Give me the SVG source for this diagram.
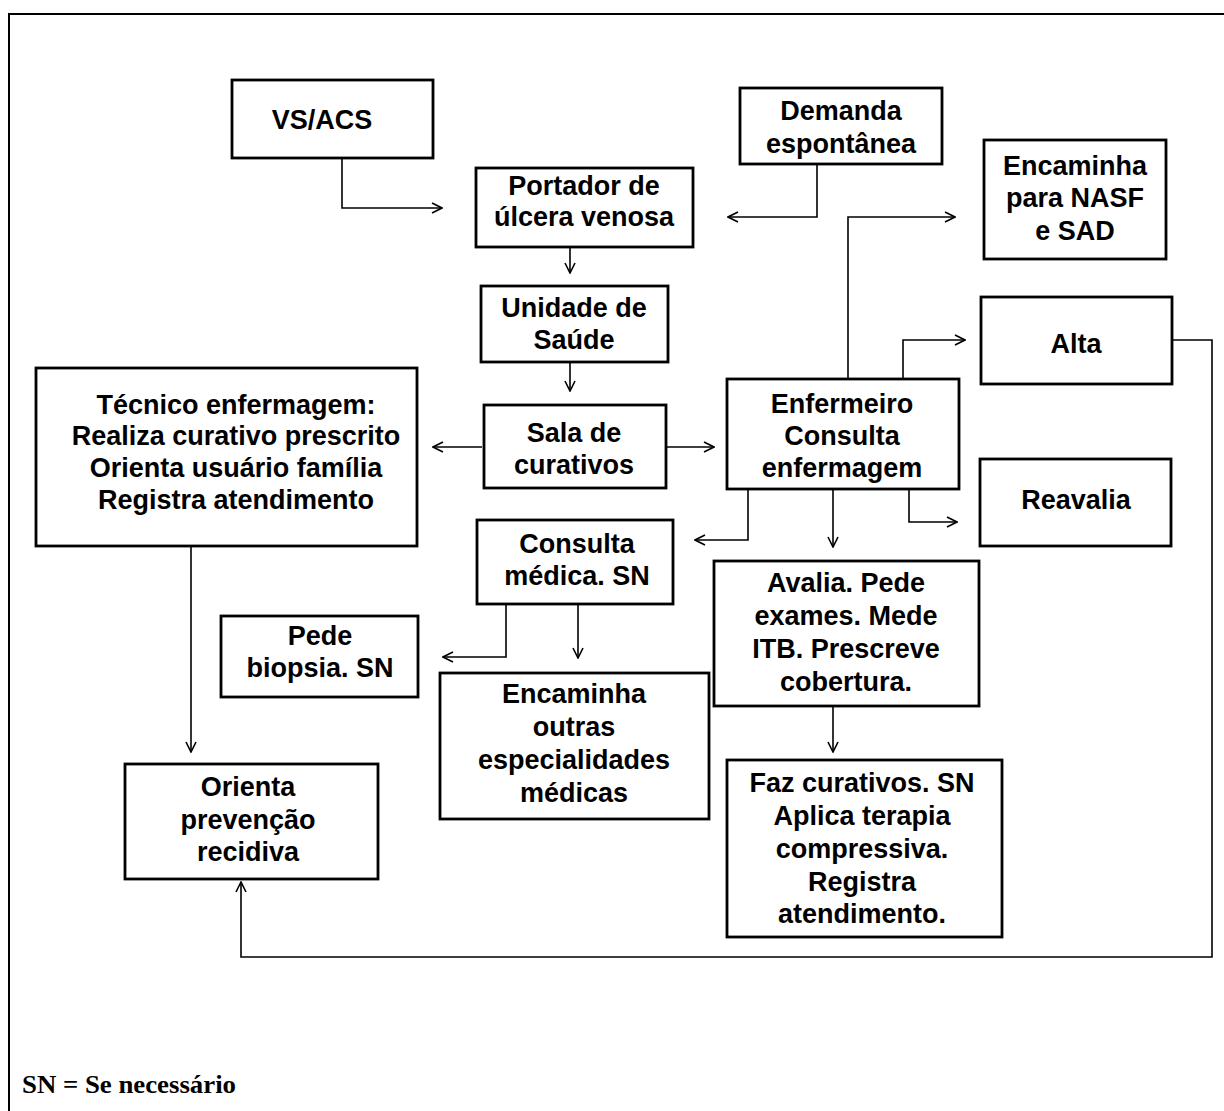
<svg xmlns="http://www.w3.org/2000/svg" width="1224" height="1111" viewBox="0 0 1224 1111">
<defs>
<style>
.box{fill:#fff;stroke:#000;stroke-width:2.8}
.t{font-family:"Liberation Sans",Arial,sans-serif;font-weight:bold;font-size:27px;text-anchor:middle;dominant-baseline:central;fill:#000}
.c{fill:none;stroke:#000;stroke-width:1.6;marker-end:url(#ar)}
</style>
<marker id="ar" markerWidth="12" markerHeight="12" refX="11" refY="6" orient="auto" markerUnits="userSpaceOnUse">
<path d="M1,1 L11,6 L1,11" fill="none" stroke="#000" stroke-width="1.6"/>
</marker>
</defs>
<rect x="0" y="0" width="1224" height="1111" fill="#fff"/>
<rect x="9" y="14" width="1240" height="1120" fill="none" stroke="#000" stroke-width="2"/>

<g id="connectors">
<path class="c" d="M342,158 V208 H442"/>
<path class="c" d="M817,164 V217 H728"/>
<path class="c" d="M570,247 V273"/>
<path class="c" d="M570,362 V391"/>
<path class="c" d="M482,447 H433"/>
<path class="c" d="M666,447 H714"/>
<path class="c" d="M848,379 V217 H955"/>
<path class="c" d="M903,379 V340 H965"/>
<path class="c" d="M1172,340 H1212 V957 H241 V882"/>
<path class="c" d="M748,489 V540 H695"/>
<path class="c" d="M833,489 V547"/>
<path class="c" d="M909,489 V522 H957"/>
<path class="c" d="M191,546 V752"/>
<path class="c" d="M506,604 V657 H443"/>
<path class="c" d="M578,604 V658"/>
<path class="c" d="M833,706 V752"/>
</g>

<g id="vsacs"><rect class="box" x="232" y="80" width="201" height="78"/><text class="t" x="322" y="120" font-size="28">VS/ACS</text></g>
<g id="portador"><rect class="box" x="476" y="168" width="217" height="79"/><text class="t" x="584" y="186">Portador de</text><text class="t" x="584" y="217">úlcera venosa</text></g>
<g id="demanda"><rect class="box" x="740" y="88" width="202" height="76"/><text class="t" x="841" y="111">Demanda</text><text class="t" x="841" y="144">espontânea</text></g>
<g id="nasf"><rect class="box" x="984" y="140" width="182" height="119"/><text class="t" x="1075" y="166">Encaminha</text><text class="t" x="1075" y="198">para NASF</text><text class="t" x="1075" y="231">e SAD</text></g>
<g id="unidade"><rect class="box" x="481" y="286" width="187" height="76"/><text class="t" x="574" y="308">Unidade de</text><text class="t" x="574" y="340">Saúde</text></g>
<g id="alta"><rect class="box" x="981" y="297" width="191" height="87"/><text class="t" x="1076" y="344">Alta</text></g>
<g id="tecnico"><rect class="box" x="36" y="368" width="381" height="178"/><text class="t" x="236" y="405">Técnico enfermagem:</text><text class="t" x="236" y="436">Realiza curativo prescrito</text><text class="t" x="236" y="468">Orienta usuário família</text><text class="t" x="236" y="500">Registra atendimento</text></g>
<g id="sala"><rect class="box" x="484" y="405" width="182" height="83"/><text class="t" x="574" y="433">Sala de</text><text class="t" x="574" y="465">curativos</text></g>
<g id="enfermeiro"><rect class="box" x="727" y="379" width="232" height="110"/><text class="t" x="842" y="404">Enfermeiro</text><text class="t" x="842" y="436">Consulta</text><text class="t" x="842" y="468">enfermagem</text></g>
<g id="reavalia"><rect class="box" x="980" y="459" width="191" height="87"/><text class="t" x="1076" y="500">Reavalia</text></g>
<g id="consulta"><rect class="box" x="477" y="520" width="196" height="84"/><text class="t" x="577" y="544">Consulta</text><text class="t" x="577" y="576">médica. SN</text></g>
<g id="avalia"><rect class="box" x="714" y="561" width="265" height="145"/><text class="t" x="846" y="583">Avalia. Pede</text><text class="t" x="846" y="616">exames. Mede</text><text class="t" x="846" y="649">ITB. Prescreve</text><text class="t" x="846" y="682">cobertura.</text></g>
<g id="biopsia"><rect class="box" x="221" y="616" width="197" height="81"/><text class="t" x="320" y="636">Pede</text><text class="t" x="320" y="668">biopsia. SN</text></g>
<g id="outras"><rect class="box" x="440" y="673" width="269" height="146"/><text class="t" x="574" y="694">Encaminha</text><text class="t" x="574" y="727">outras</text><text class="t" x="574" y="760">especialidades</text><text class="t" x="574" y="793">médicas</text></g>
<g id="orienta"><rect class="box" x="125" y="764" width="253" height="115"/><text class="t" x="248" y="787">Orienta</text><text class="t" x="248" y="820">prevenção</text><text class="t" x="248" y="852">recidiva</text></g>
<g id="faz"><rect class="box" x="727" y="760" width="275" height="177"/><text class="t" x="862" y="783">Faz curativos. SN</text><text class="t" x="862" y="816">Aplica terapia</text><text class="t" x="862" y="849">compressiva.</text><text class="t" x="862" y="882">Registra</text><text class="t" x="862" y="914">atendimento.</text></g>

<text x="22" y="1093" font-family="'Liberation Serif','Times New Roman',serif" font-weight="bold" font-size="25" textLength="214" lengthAdjust="spacingAndGlyphs">SN = Se necessário</text>
</svg>
